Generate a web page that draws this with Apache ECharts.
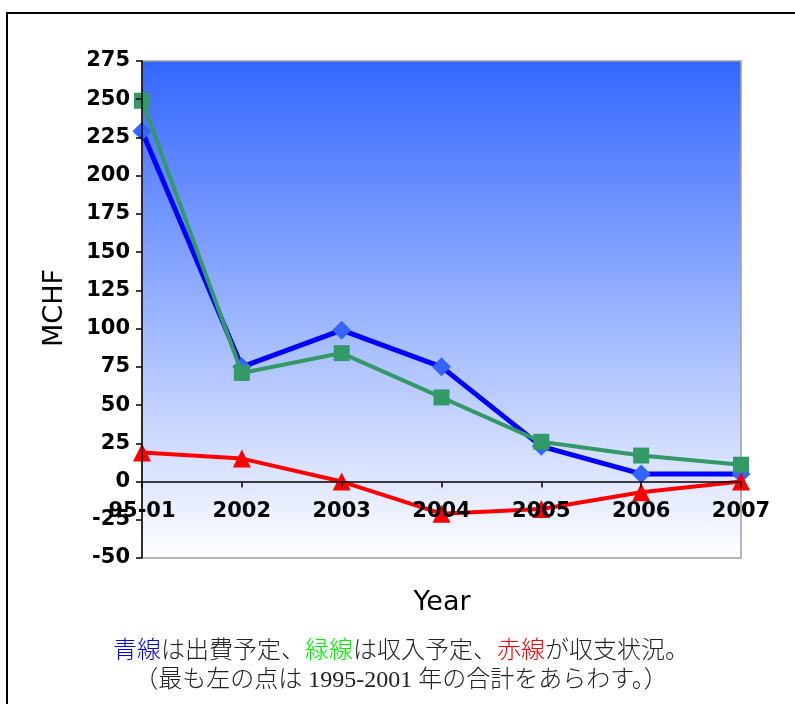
<!DOCTYPE html>
<html>
<head>
<meta charset="utf-8">
<script src="https://cdn.jsdelivr.net/npm/echarts@6/dist/echarts.min.js"></script>
<style>
  html, body { margin: 0; padding: 0; background: #fff; }
  #chart { width: 795px; height: 704px; }
</style>
</head>
<body>
<div id="chart"></div>
<script>
// Budget plan by year (MCHF). The first point sums 1995-2001.
var years = ['95-01', '2002', '2003', '2004', '2005', '2006', '2007'];
var expenditure = [229, 75, 99, 75, 23, 5, 5];     // blue line
var income = [249, 71, 84, 55, 26, 17, 11];         // green line
var balance = [19, 15, 0, -21, -18, -7, 0];         // red line
var yTicks = { min: -50, max: 275, step: 25 };

var chart = echarts.init(document.getElementById('chart'), null, { renderer: 'canvas' });

var tickFont = {
  fontFamily: 'DejaVu Sans',
  fontWeight: 'bold',
  fontSize: 21,
  color: '#000'
};
var captionFont = '300 24px "Liberation Serif", "Noto Sans CJK JP"';

chart.setOption({
  animation: false,
  backgroundColor: '#fff',
  grid: {
    left: 142, right: 54, top: 61, bottom: 146,
    show: true,
    borderColor: '#a0a0a0',
    borderWidth: 1.5,
    backgroundColor: {
      type: 'linear', x: 0, y: 0, x2: 0, y2: 1,
      colorStops: [
        { offset: 0, color: '#3366ff' },
        { offset: 1, color: '#ffffff' }
      ]
    }
  },
  xAxis: {
    type: 'category',
    data: years,
    boundaryGap: false,
    zlevel: 1,
    axisLine: { onZero: true, lineStyle: { color: '#000', width: 1.5 } },
    axisTick: { show: true, length: 6, inside: false, lineStyle: { color: '#000', width: 1.5 } },
    axisLabel: Object.assign({ margin: 20 }, tickFont),
    splitLine: { show: false }
  },
  yAxis: {
    type: 'value',
    min: yTicks.min,
    max: yTicks.max,
    interval: yTicks.step,
    z: 10,
    axisLine: { show: true, lineStyle: { color: '#000', width: 1.5 } },
    axisTick: { show: true, length: 6, lineStyle: { color: '#000', width: 1.5 } },
    axisLabel: Object.assign({ margin: 12 }, tickFont),
    splitLine: { show: false }
  },
  series: [
    {
      name: '出費予定',
      type: 'line',
      data: expenditure,
      symbol: 'diamond',
      symbolSize: 19,
      lineStyle: { color: '#0000ff', width: 5 },
      itemStyle: { color: '#3366ff' },
      z: 3
    },
    {
      name: '収入予定',
      type: 'line',
      data: income,
      symbol: 'rect',
      symbolSize: 16,
      lineStyle: { color: '#339966', width: 4 },
      itemStyle: { color: '#339966' },
      z: 4
    },
    {
      name: '収支状況',
      type: 'line',
      data: balance,
      symbol: 'triangle',
      symbolSize: 18,
      lineStyle: { color: '#ff0000', width: 4 },
      itemStyle: { color: '#ff0000' },
      z: 5
    }
  ],
  graphic: [
    {
      type: 'rect',
      shape: { x: 7, y: 13, width: 820, height: 720 },
      style: { fill: 'none', stroke: '#000', lineWidth: 2 },
      silent: true
    },
    {
      type: 'text',
      x: 55, y: 308,
      rotation: Math.PI / 2,
      style: {
        text: 'MCHF',
        font: '27px "DejaVu Sans"',
        fill: '#000',
        align: 'center',
        verticalAlign: 'middle'
      }
    },
    {
      type: 'text',
      x: 442, y: 603,
      style: {
        text: 'Year',
        font: '27px "DejaVu Sans"',
        fill: '#000',
        align: 'center',
        verticalAlign: 'middle'
      }
    },
    {
      type: 'text',
      x: 401, y: 652,
      style: {
        text: '{b|青線}{k|は出費予定、}{g|緑線}{k|は収入予定、}{r|赤線}{k|が収支状況。}',
        align: 'center',
        verticalAlign: 'middle',
        rich: {
          b: { fill: '#0000ff', font: captionFont },
          g: { fill: '#00ee00', font: captionFont },
          r: { fill: '#ff0000', font: captionFont },
          k: { fill: '#222', font: captionFont }
        }
      }
    },
    {
      type: 'text',
      x: 401, y: 681,
      style: {
        text: '（最も左の点は 1995-2001 年の合計をあらわす。）',
        font: captionFont,
        fill: '#222',
        align: 'center',
        verticalAlign: 'middle'
      }
    }
  ]
});

// Category labels sit just under the zero line rather than the grid bottom.
var zeroY = chart.convertToPixel({ yAxisIndex: 0 }, 0);
var bottomY = chart.convertToPixel({ yAxisIndex: 0 }, yTicks.min);
chart.setOption({
  xAxis: { axisLabel: { margin: 20 - (bottomY - zeroY) } }
});
</script>
</body>
</html>
